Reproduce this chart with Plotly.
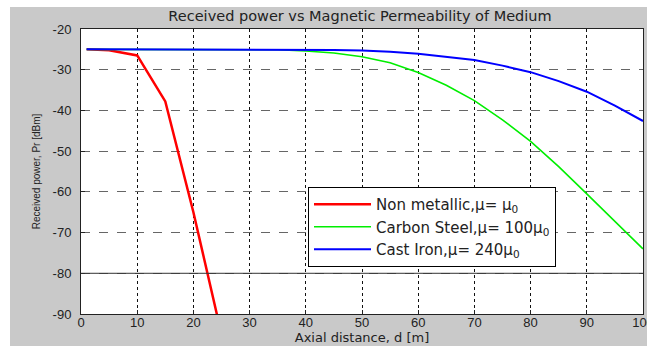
import plotly.graph_objects as go

# Data
x_red = [1, 5, 10, 15, 20, 25]
y_red = [-25, -25.2, -26.5, -37.8, -65, -95]

x_dist = [1, 5, 10, 15, 20, 25, 30, 35, 40, 45, 50, 55, 60, 65, 70, 75, 80, 85, 90, 95, 100]
y_green = [-25, -25, -25, -25, -25, -25, -25, -25.1, -25.4, -25.9, -26.8, -28.3, -30.7,
           -33.8, -37.6, -42.3, -47.6, -53.8, -60.5, -67.2, -74]
y_blue = [-25, -25, -25, -25, -25, -25, -25, -25, -25.05, -25.15, -25.3, -25.6, -26.1,
          -26.8, -27.6, -29.0, -30.6, -32.8, -35.4, -38.8, -42.6]

threshold = -80
names = ["Non metallic,\u03bc= \u03bc<sub>0</sub>",
         "Carbon Steel,\u03bc= 100\u03bc<sub>0</sub>",
         "Cast Iron,\u03bc= 240\u03bc<sub>0</sub>"]
x_ticks = list(range(0, 101, 10))
y_ticks = list(range(-90, -19, 10))

W, H = 647, 346
L, R, T, B = 81, 4, 29, 32

fig = go.Figure()
fig.add_trace(go.Scatter(x=x_red, y=y_red, mode="lines", name=names[0],
                         line=dict(color="#ff0000", width=2.5)))
fig.add_trace(go.Scatter(x=x_dist, y=y_green, mode="lines", name=names[1],
                         line=dict(color="#00ee00", width=1.6)))
fig.add_trace(go.Scatter(x=x_dist, y=y_blue, mode="lines", name=names[2],
                         line=dict(color="#0000ff", width=2)))

fig.add_hline(y=threshold, line=dict(color="#333333", width=1))

pw = W - L - R
ph = H - T - B
fig.add_shape(type="rect", xref="paper", yref="paper",
              x0=(0 - L) / pw, x1=(W - L) / pw, y0=(H - B) / ph + 0.1, y1=(H - B - 7) / ph,
              fillcolor="white", line=dict(width=0), layer="below")
fig.add_shape(type="rect", xref="paper", yref="paper",
              x0=(0 - L) / pw, x1=(10 - L) / pw, y0=-B / ph - 0.1, y1=(H - B) / ph + 0.1,
              fillcolor="white", line=dict(width=0), layer="below")

arial = "Liberation Sans, Arial, sans-serif"
wide = "DejaVu Sans, Verdana, sans-serif"
fig.update_layout(
    width=W, height=H,
    template="none",
    margin=dict(l=L, r=R, t=T, b=B, pad=0),
    paper_bgcolor="#c9c9c9",
    plot_bgcolor="white",
    font=dict(family=arial, size=13, color="#222222"),
    title=dict(text="Received power vs Magnetic Permeability of Medium",
               x=360 / W, xanchor="center", y=1 - 16 / H, yanchor="middle",
               font=dict(family=wide, size=14.5, color="#222222")),
    showlegend=True,
    legend=dict(x=(308 - L) / pw, y=(H - B - 187) / ph, xanchor="left", yanchor="top",
                bgcolor="white", bordercolor="#000000", borderwidth=1,
                itemwidth=57, tracegroupgap=0,
                font=dict(family=wide, size=15, color="#222222")),
    xaxis=dict(range=[0, 100], tickvals=x_ticks, ticktext=[str(v) for v in x_ticks],
               showgrid=True, gridcolor="#111111", griddash="dot", gridwidth=1,
               showline=True, linecolor="#222222", linewidth=1, mirror=True,
               ticks="inside", ticklen=4, tickcolor="#222222", zeroline=False,
               automargin=False, ticklabelstandoff=-4, ticklabeloverflow="allow",
               tickfont=dict(family=arial, size=13, color="#222222"),
               title=dict(text="Axial distance, d [m]", standoff=0,
                          font=dict(family=wide, size=13, color="#222222"))),
    yaxis=dict(range=[-90, -20], tickvals=y_ticks, ticktext=[str(v) for v in y_ticks],
               showgrid=True, gridcolor="#666666", griddash="dash", gridwidth=1,
               showline=True, linecolor="#222222", linewidth=1, mirror=True,
               ticks="inside", ticklen=4, tickcolor="#222222", zeroline=False,
               automargin=False, ticklabelstandoff=6,
               tickfont=dict(family=arial, size=13, color="#222222"),
               title=dict(text="Received power, Pr [dBm]", standoff=10,
                          font=dict(family=arial, size=10, color="#222222"))),
)

fig.write_html("out.html", config={"displayModeBar": False},
               post_script="document.body.style.margin='0px';")
